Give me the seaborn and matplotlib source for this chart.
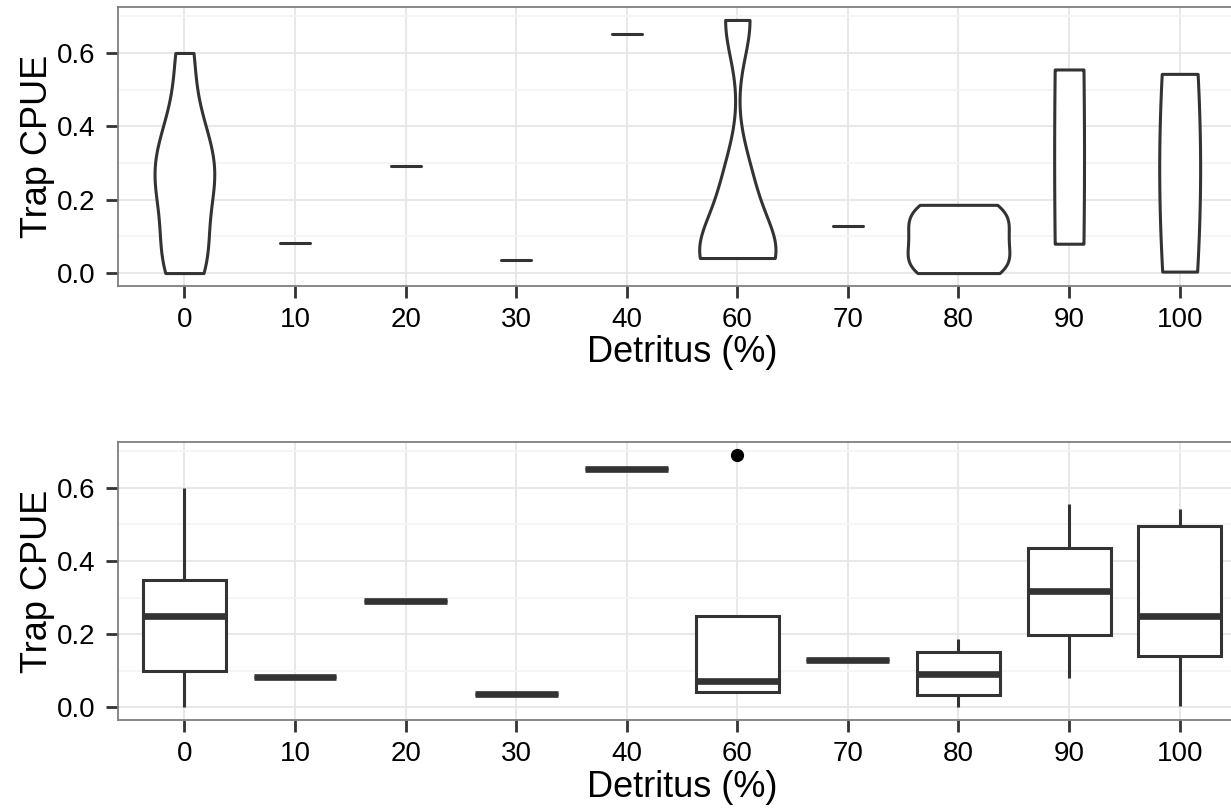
import numpy as np
import pandas as pd
import matplotlib
matplotlib.use("Agg")
import matplotlib.pyplot as plt
from matplotlib.ticker import FixedLocator, FormatStrFormatter
import seaborn as sns

# Detritus cover classes (%) and trap catch-per-unit-effort observations
categories = ["0", "10", "20", "30", "40", "60", "70", "80", "90", "100"]
cpue_0 = [0.0, 0.04, 0.10, 0.22, 0.25, 0.29, 0.348, 0.43, 0.60]
cpue_10 = [0.083]
cpue_20 = [0.292]
cpue_30 = [0.036]
cpue_40 = [0.652]
cpue_60 = [0.041, 0.042, 0.071, 0.249, 0.690]
cpue_70 = [0.129]
cpue_80 = [0.0, 0.0, 0.005, 0.033, 0.05, 0.07, 0.091, 0.11, 0.13, 0.151, 0.17, 0.186, 0.186]
cpue_90 = [0.080, 0.555]
cpue_100 = [0.004, 0.141, 0.249, 0.495, 0.543]

groups = [cpue_0, cpue_10, cpue_20, cpue_30, cpue_40,
          cpue_60, cpue_70, cpue_80, cpue_90, cpue_100]
df = pd.DataFrame({
    "detritus": np.repeat(categories, [len(g) for g in groups]),
    "cpue": np.concatenate(groups),
})

# per-violin drawing width and bandwidth multiplier
violin_width = {"0": 0.54, "10": 0.27, "20": 0.27, "30": 0.27, "40": 0.27,
                "60": 0.69, "70": 0.27, "80": 0.92, "90": 0.27, "100": 0.37}
violin_bw_adjust = {"0": 0.9, "60": 1.0, "80": 1.2, "90": 6.0, "100": 3.0}


def nrd0_factor(kde):
    """Silverman's rule-of-thumb (R's bw.nrd0) as a gaussian_kde factor."""
    x = np.asarray(kde.dataset).ravel()
    sd = x.std(ddof=1)
    q75, q25 = np.percentile(x, [75, 25])
    lo = min(sd, (q75 - q25) / 1.34)
    if lo <= 0:
        lo = sd
    return 0.9 * lo * x.size ** -0.2 / sd


sns.set_style("white")
plt.rcParams["font.family"] = ["Liberation Sans", "DejaVu Sans"]
plt.rcParams["text.color"] = "black"
plt.rcParams["axes.labelcolor"] = "black"

DARK = "#333333"
fig = plt.figure(figsize=(12.31, 8.11), dpi=100)
ax_top = fig.add_axes([0.0959, 0.6477, 0.9163, 0.3433])
ax_bot = fig.add_axes([0.0959, 0.1122, 0.9163, 0.3424])

# violins
for cat in categories:
    sub = df[df["detritus"] == cat]
    sns.violinplot(
        data=sub, x="detritus", y="cpue", order=categories,
        width=violin_width[cat], density_norm="width", cut=0, inner=None,
        bw_method=nrd0_factor, bw_adjust=violin_bw_adjust.get(cat, 1.0),
        color="white", linecolor=DARK, linewidth=2.2, saturation=1,
        ax=ax_top,
    )

# boxplots
sns.boxplot(
    data=df, x="detritus", y="cpue", order=categories, width=0.75,
    color="white", linecolor=DARK, linewidth=2.2, saturation=1,
    showcaps=False, whis=1.5, fliersize=8.5,
    flierprops=dict(marker="o", markerfacecolor="black", markeredgecolor="black"),
    medianprops=dict(linewidth=4.8, color=DARK, solid_capstyle="butt"),
    ax=ax_bot,
)

for ax in (ax_top, ax_bot):
    ax.set_xlim(-0.6, 9.6)
    ax.set_ylim(-0.0345, 0.7245)
    ax.set_facecolor("white")
    ax.yaxis.set_major_locator(FixedLocator([0.0, 0.2, 0.4, 0.6]))
    ax.yaxis.set_minor_locator(FixedLocator([0.1, 0.3, 0.5, 0.7]))
    ax.yaxis.set_major_formatter(FormatStrFormatter("%.1f"))
    ax.set_axisbelow(True)
    ax.grid(True, which="major", axis="both", color="#E6E6E6", linewidth=1.3)
    ax.grid(True, which="minor", axis="y", color="#F5F5F5", linewidth=1.3)
    ax.tick_params(axis="both", which="major", bottom=True, left=True,
                   length=8.5, width=2, color=DARK, labelsize=20,
                   labelcolor="black")
    ax.tick_params(axis="x", which="major", pad=6.5)
    ax.tick_params(axis="y", which="major", pad=7.5)
    ax.tick_params(axis="y", which="minor", length=0)
    for sp in ax.spines.values():
        sp.set_visible(True)
        sp.set_color("#7F7F7F")
        sp.set_linewidth(1.3)
    ax.set_xlabel("Detritus (%)", fontsize=26, labelpad=2, color="black")
    ax.set_ylabel("Trap CPUE", fontsize=26, labelpad=1.5, color="black")

fig.savefig("out.png", dpi=100)
